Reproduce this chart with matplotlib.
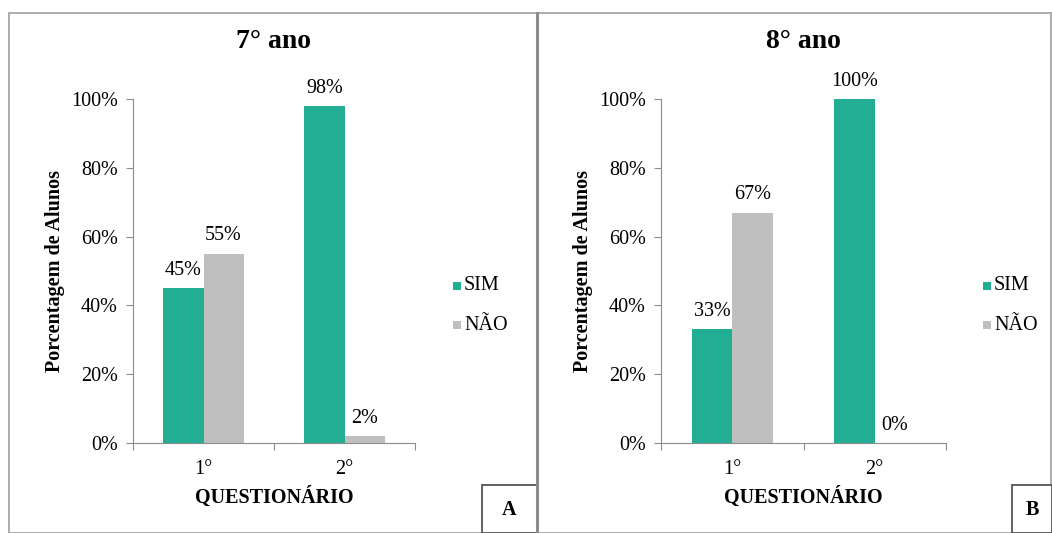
import matplotlib
matplotlib.use("Agg")
import matplotlib.pyplot as plt
from matplotlib.patches import Rectangle
from matplotlib.lines import Line2D

# Data
questionarios = ["1°", "2°"]
series_names = ["SIM", "NÃO"]
sim_7 = [45, 98]
nao_7 = [55, 2]
sim_8 = [33, 100]
nao_8 = [67, 0]
yticks = [0, 20, 40, 60, 80, 100]

TEAL = "#22ae92"
GRAY = "#bfbfbf"
FONT = "Liberation Serif"
FS = 14.5

W, H = 1052, 533
fig = plt.figure(figsize=(W / 100, H / 100), dpi=100)
plt.rcParams["font.family"] = FONT


def fx(px):
    return px / W


def fy(py):
    return 1 - py / H


# Panel frames
fig.add_artist(Rectangle((fx(9), fy(533)), fx(528), fy(13) - fy(533),
                         transform=fig.transFigure, fill=False,
                         edgecolor="#a6a6a6", linewidth=1.3))
fig.add_artist(Rectangle((fx(537), fy(533)), fx(514), fy(13) - fy(533),
                         transform=fig.transFigure, fill=False,
                         edgecolor="#a6a6a6", linewidth=1.3))
fig.add_artist(Line2D([fx(537), fx(537)], [fy(13), 0], transform=fig.transFigure,
                      color="#8c8c8c", linewidth=2.2))


def panel(left, right, title, sim, nao, letter, box_left, box_right, legend_x):
    ax = fig.add_axes([fx(left), fy(443), fx(right - left), fy(99) - fy(443)])
    n = len(questionarios)
    w = 0.284
    centers = [i + 0.5 for i in range(n)]
    b1 = ax.bar([c - w / 2 for c in centers], sim, width=w, color=TEAL)
    b2 = ax.bar([c + w / 2 for c in centers], nao, width=w, color=GRAY)
    for bars, vals in ((b1, sim), (b2, nao)):
        for b, v in zip(bars, vals):
            ax.annotate(f"{v}%", (b.get_x() + b.get_width() / 2, v),
                        xytext=(0, 6), textcoords="offset points",
                        ha="center", va="bottom", fontsize=FS, family=FONT)
    ax.set_xlim(0, n)
    ax.set_ylim(0, 100)
    ax.set_yticks(yticks)
    ax.set_yticklabels([f"{t}%" for t in yticks], fontsize=FS, family=FONT)
    ax.set_xticks(range(n + 1))
    ax.set_xticklabels([])
    ax.set_xticks(centers, minor=True)
    ax.set_xticklabels(questionarios, minor=True, fontsize=FS, family=FONT)
    ax.tick_params(axis="x", which="major", length=5, color="#8c8c8c")
    ax.tick_params(axis="x", which="minor", length=0, pad=12)
    ax.tick_params(axis="y", length=5, color="#8c8c8c", pad=6)
    for s in ("top", "right"):
        ax.spines[s].set_visible(False)
    for s in ("left", "bottom"):
        ax.spines[s].set_color("#8c8c8c")
    ax.set_ylabel("Porcentagem de Alunos", fontsize=FS, fontweight="bold",
                  family=FONT, labelpad=4)
    ax.set_xlabel("QUESTIONÁRIO", fontsize=FS, fontweight="bold", family=FONT,
                  labelpad=6)
    ax.set_title(title, fontsize=20, fontweight="bold", family=FONT, pad=37)

    # Legend
    for i, (name, col) in enumerate(zip(series_names, [TEAL, GRAY])):
        yc = 286 + i * 39
        fig.add_artist(Rectangle((fx(legend_x - 4), fy(yc + 4)), fx(8), fy(yc - 4) - fy(yc + 4),
                                 transform=fig.transFigure, facecolor=col, edgecolor="none"))
        fig.text(fx(legend_x + 7), fy(yc), name, fontsize=FS, family=FONT,
                 ha="left", va="center")

    # Panel letter box
    fig.add_artist(Rectangle((fx(box_left), fy(533)), fx(box_right - box_left), fy(485) - fy(533),
                             transform=fig.transFigure, facecolor="white",
                             edgecolor="#555555", linewidth=1.3))
    fig.text(fx((box_left + box_right) / 2), fy(510), letter, fontsize=FS,
             fontweight="bold", family=FONT, ha="center", va="center")
    return ax


panel(133, 415, "7° ano", sim_7, nao_7, "A", 482, 537, 457)
panel(661, 946, "8° ano", sim_8, nao_8, "B", 1012, 1052, 987)

fig.savefig("out.png", dpi=100)
